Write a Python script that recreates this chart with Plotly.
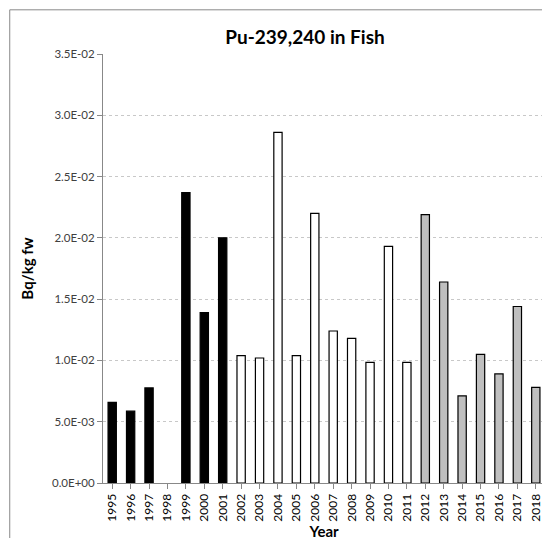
import plotly.graph_objects as go

years = [str(y) for y in range(1995, 2019)]
values = [6.58e-3, 5.86e-3, 7.76e-3, None, 23.7e-3, 13.9e-3, 20.0e-3,
          10.4e-3, 10.2e-3, 28.6e-3, 10.4e-3, 22.0e-3, 12.4e-3, 11.8e-3, 9.84e-3,
          19.3e-3, 9.84e-3, 21.9e-3, 16.4e-3, 7.10e-3, 10.5e-3, 8.9e-3, 14.4e-3, 7.8e-3]
colors = ["#000000"] * 7 + ["#ffffff"] * 10 + ["#bfbfbf"] * 7
ticks = [0, 0.005, 0.01, 0.015, 0.02, 0.025, 0.03, 0.035]
tick_labels = ["0.0E+00", "5.0E-03", "1.0E-02", "1.5E-02", "2.0E-02", "2.5E-02", "3.0E-02", "3.5E-02"]

fig = go.Figure(go.Bar(x=years, y=values, marker=dict(color=colors, line=dict(color="#000000", width=1.2)),
                       width=0.45))
fig.update_layout(
    width=550, height=538, paper_bgcolor="white", plot_bgcolor="white",
    margin=dict(l=95, r=13, t=46, b=63),
    font=dict(family="Lato", color="#404040"),
    title=dict(text="<b>Pu-239,240 in Fish</b>", x=0.54, xanchor="center", y=0.945, yanchor="middle",
               font=dict(size=19, color="#000000")),
    showlegend=False,
    shapes=[dict(type="rect", xref="paper", yref="paper", x0=-0.211, x1=1.025, y0=-0.142, y1=1.103,
                 line=dict(color="#888888", width=1))],
)
fig.update_xaxes(type="category", tickangle=-90, tickfont=dict(size=12, color="#000000"),
                 showline=True, linecolor="#888888", ticks="outside", ticklen=5, tickcolor="#888888",
                 title=dict(text="<b>Year</b>", font=dict(size=15, color="#000000"), standoff=2))
fig.update_yaxes(range=[0, 0.035], tickvals=ticks, ticktext=tick_labels, tickfont=dict(size=11.5, color="#404040"),
                 showgrid=True, gridcolor="#c8c8c8", griddash="dot", showline=True, linecolor="#888888",
                 ticks="outside", ticklen=5, tickcolor="#888888", zeroline=False,
                 title=dict(text="<b>Bq/kg fw</b>", font=dict(size=15, color="#000000"), standoff=14))
fig.write_html("out.html")
